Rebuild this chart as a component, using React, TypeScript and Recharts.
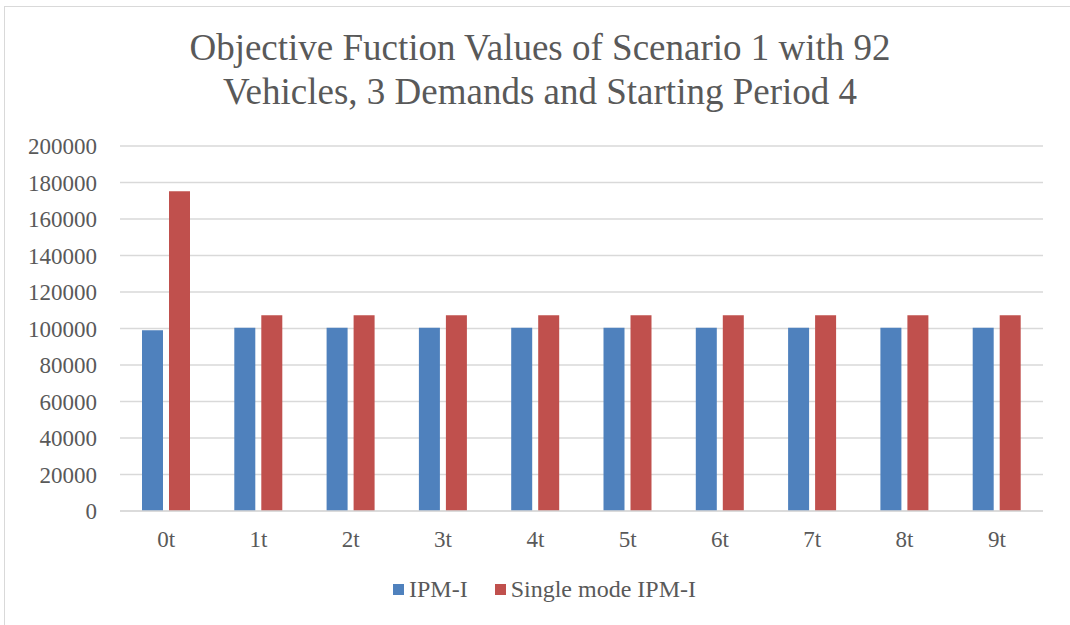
import { BarChart, Bar, XAxis, YAxis, CartesianGrid, Legend } from 'recharts';

const BLUE = '#4F81BD';
const RED = '#C0504D';
const TEXT = '#595959';
const GRID = '#D9D9D9';
const FONT = '"Liberation Serif", "Times New Roman", serif';

const categories = ['0t', '1t', '2t', '3t', '4t', '5t', '6t', '7t', '8t', '9t'];
const ipm = [99000, 100400, 100400, 100400, 100400, 100400, 100400, 100400, 100400, 100400];
const singleMode = [175200, 107300, 107300, 107300, 107300, 107300, 107300, 107300, 107300, 107300];
const yTicks = [0, 20000, 40000, 60000, 80000, 100000, 120000, 140000, 160000, 180000, 200000];

const data = categories.map((c, i) => ({ name: c, ipm: ipm[i], single: singleMode[i] }));

const legendItems = [
  { label: 'IPM-I', color: BLUE },
  { label: 'Single mode IPM-I', color: RED },
];

function ChartLegend() {
  return (
    <div style={{ display: 'flex', justifyContent: 'center', gap: 27, paddingTop: 15, paddingLeft: 26 }}>
      {legendItems.map((it) => (
        <div key={it.label} style={{ display: 'flex', alignItems: 'center', gap: 5 }}>
          <span style={{ width: 11, height: 11, background: it.color, display: 'inline-block' }} />
          <span style={{ fontSize: 24, color: TEXT, fontFamily: FONT }}>{it.label}</span>
        </div>
      ))}
    </div>
  );
}

export default function App() {
  return (
    <div style={{ position: 'absolute', left: 0, top: 0, width: 1070, height: 625, overflow: 'hidden', background: '#fff', fontFamily: FONT }}>
      {/* chart frame, only top and left edges are visible */}
      <div style={{ position: 'absolute', left: 4, top: 6, width: 1100, height: 660, border: '1.5px solid #D9D9D9' }} />
      <div style={{
        position: 'absolute', left: 0, top: 26, width: 1080, textAlign: 'center',
        fontSize: 37, lineHeight: '44px', color: TEXT,
      }}>
        Objective Fuction Values of Scenario 1 with 92<br />
        Vehicles, 3 Demands and Starting Period 4
      </div>
      <BarChart
        width={1070}
        height={625}
        data={data}
        margin={{ top: 146, right: 27, left: 20, bottom: 8 }}
        barSize={21}
        barGap={6}
        style={{ position: 'absolute', left: 0, top: 0 }}
      >
        <CartesianGrid vertical={false} stroke={GRID} strokeWidth={1.5} />
        <XAxis
          dataKey="name"
          tickLine={false}
          axisLine={{ stroke: GRID, strokeWidth: 1.5 }}
          tick={{ fill: TEXT, fontSize: 23, fontFamily: FONT }}
          tickMargin={14}
          height={50}
        />
        <YAxis
          width={100}
          domain={[0, 200000]}
          ticks={yTicks}
          interval={0}
          tickLine={false}
          axisLine={false}
          tick={{ fill: TEXT, fontSize: 23, fontFamily: FONT }}
          tickMargin={17}
        />
        <Legend verticalAlign="bottom" height={56} content={() => <ChartLegend />} />
        <Bar dataKey="ipm" name="IPM-I" fill={BLUE} isAnimationActive={false} />
        <Bar dataKey="single" name="Single mode IPM-I" fill={RED} isAnimationActive={false} />
      </BarChart>
    </div>
  );
}
